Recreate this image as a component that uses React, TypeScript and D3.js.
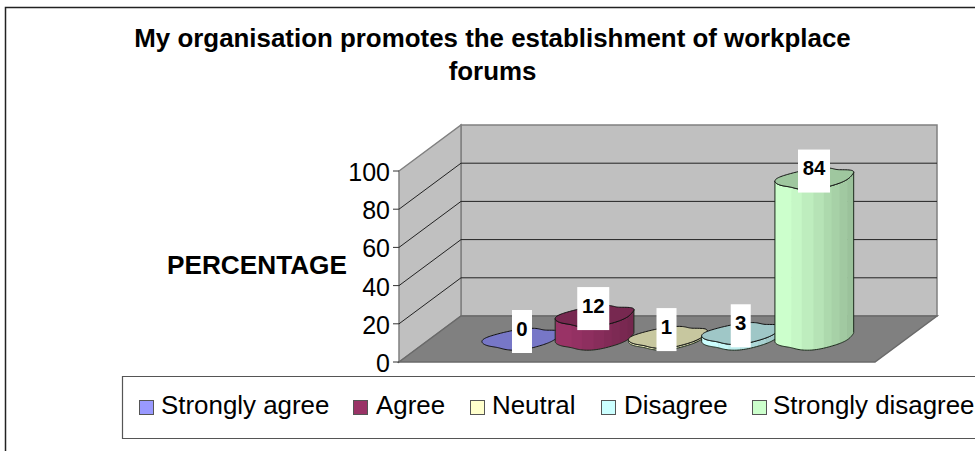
import React from "react";
import * as d3 from "d3";

const categories = ["Strongly agree", "Agree", "Neutral", "Disagree", "Strongly disagree"];
const values = [0, 12, 1, 3, 84];
const colors = ["#9999FF", "#993366", "#FFFFCC", "#CCFFFF", "#CCFFCC"];
const yTicks = [0, 20, 40, 60, 80, 100];
const legendSwatchX = [139, 353, 470, 601, 752];
const legendTextX = [161, 376, 492, 624, 773];
const labelShift = [1, -1, -1, 0, 0];

// facets of the low resolution cylinder: where each band starts, and its shade
const bandStarts = [0, 0.21, 0.34, 0.49, 0.62, 0.72, 0.82, 0.92, 1];
const bandShades = [1, 0.97, 0.93, 0.89, 0.85, 0.82, 0.79, 0.76];
// wobble of the rim, at equal angles
const rimRadius = [0.98, 0.98, 1.14, 0.78, 1.0, 0.98, 0.95, 0.98, 1.1, 1.0, 0.9, 0.8, 0.96, 1.12, 1.02, 1.0];

const FONT = "'Liberation Sans', Arial, sans-serif";
const front = { x0: 399, x1: 875, y0: 362, y1: 171 };
const depth = { x: 62, y: -46 };

const yFront = d3.scaleLinear().domain([0, 100]).range([front.y0, front.y1]);
const xCat = d3.scalePoint<string>().domain(categories).range([521, 814]);
const baseY = 339;
const rimA = 35;
const rimB = 15.5;
const rimC = 11;

const radius = d3.interpolateBasisClosed(rimRadius);
const N = 144;
const rimAt = (cx: number, cy: number): [number, number][] =>
  d3.range(N).map((i) => {
    const t = i / N;
    const th = t * 2 * Math.PI;
    const r = radius(t);
    const u = Math.cos(th) * r;
    const v = Math.sin(th) * r;
    return [cx + rimA * u + rimB * v, cy - rimC * v];
  });

const shade = (c: string, k: number) => {
  const o = d3.rgb(c);
  return d3.rgb(o.r * k, o.g * k, o.b * k).formatHex();
};

const line = d3.line();

function Cylinder({ i }: { i: number }) {
  const cx = xCat(categories[i]) as number;
  const h = yFront(0) - yFront(values[i]);
  const topY = baseY - h;
  const top = rimAt(cx, topY);
  const base = rimAt(cx, baseY);
  const xs = top.map((p) => p[0]);
  const iL = xs.indexOf(d3.min(xs) as number);
  const iR = xs.indexOf(d3.max(xs) as number);
  const idx: number[] = [];
  for (let k = iL; k !== iR; k = (k + 1) % N) idx.push(k);
  idx.push(iR);
  const body = [...idx.map((k) => base[k]), ...idx.slice().reverse().map((k) => top[k])];
  const x0 = xs[iL];
  const w = xs[iR] - xs[iL];
  return (
    <g>
      {h > 0 && (
        <>
          <clipPath id={`body-${i}`}>
            <path d={line(body) + "Z"} />
          </clipPath>
          <g clipPath={`url(#body-${i})`}>
            {bandShades.map((k, b) => (
              <rect
                key={b}
                x={x0 + bandStarts[b] * w}
                width={(bandStarts[b + 1] - bandStarts[b]) * w + 0.5}
                y={topY - 20}
                height={h + 50}
                fill={shade(colors[i], k)}
              />
            ))}
          </g>
          <path d={line(body) + "Z"} fill="none" stroke="#1c2a1c" strokeWidth={1} />
        </>
      )}
      <path d={line(top) + "Z"} fill={shade(colors[i], 0.78)} stroke="#111" strokeWidth={1} />
    </g>
  );
}

function Label({ i }: { i: number }) {
  const cx = (xCat(categories[i]) as number) + labelShift[i];
  const rimY = baseY - (yFront(0) - yFront(values[i]));
  const text = String(values[i]);
  const w = text.length > 1 ? 32 : 20;
  return (
    <g>
      <rect x={cx - w / 2} y={rimY - 29} width={w} height={43} fill="#fff" />
      <text x={cx} y={rimY - 3.5} textAnchor="middle" fontSize={20.4} fontWeight="bold" fill="#000">
        {text}
      </text>
    </g>
  );
}

export default function App() {
  const bx = front.x0 + depth.x;
  const bRight = front.x1 + depth.x;
  const by = (v: number) => yFront(v) + depth.y;
  const poly = (p: number[][]) => line(p as [number, number][]) + "Z";
  return (
    <svg
      width={975}
      height={451}
      viewBox="0 0 975 451"
      style={{ position: "absolute", left: 0, top: 0, background: "#fff" }}
      fontFamily={FONT}
    >
      {/* chart frame */}
      <path d="M975.5,7.5 H5.5 V451" fill="none" stroke="#222" strokeWidth={1.5} />

      <text x={492.5} y={47} textAnchor="middle" fontSize={25.9} fontWeight="bold">
        My organisation promotes the establishment of workplace
      </text>
      <text x={492.5} y={80} textAnchor="middle" fontSize={25.9} fontWeight="bold">
        forums
      </text>

      {/* walls */}
      <path d={poly([[bx, by(100)], [bRight, by(100)], [bRight, by(0)], [bx, by(0)]])} fill="#C0C0C0" stroke="#808080" strokeWidth={1.5} />
      <path d={poly([[front.x0, yFront(100)], [bx, by(100)], [bx, by(0)], [front.x0, yFront(0)]])} fill="#C0C0C0" stroke="#808080" strokeWidth={1.5} />
      {yTicks.slice(1, 5).map((t) => (
        <path
          key={t}
          d={`M${front.x0},${yFront(t)} L${bx},${by(t)} H${bRight}`}
          fill="none"
          stroke="#222"
          strokeWidth={1}
        />
      ))}
      {/* floor */}
      <path d={poly([[front.x0, yFront(0)], [bx, by(0)], [bRight, by(0)], [front.x1, yFront(0)]])} fill="#808080" stroke="#6a6a6a" strokeWidth={1.5} />

      {/* axis */}
      {yTicks.map((t) => (
        <g key={t}>
          <line x1={front.x0 - 6} x2={front.x0} y1={yFront(t)} y2={yFront(t)} stroke="#333" />
          <text x={390} y={yFront(t) + 10} textAnchor="end" fontSize={25}>
            {t}
          </text>
        </g>
      ))}
      <text x={167} y={274} fontSize={26.2} fontWeight="bold">
        PERCENTAGE
      </text>

      {values.map((_, i) => (
        <Cylinder key={i} i={i} />
      ))}
      {values.map((_, i) => (
        <Label key={i} i={i} />
      ))}

      {/* legend */}
      <path d="M975,376.5 H122.5 V438.5 H975" fill="#fff" stroke="#555" strokeWidth={1.2} />
      {categories.map((c, i) => (
        <g key={c}>
          <rect x={legendSwatchX[i] + 0.5} y={400.5} width={14} height={14} fill={colors[i]} stroke="#555" />
          <text x={legendTextX[i]} y={414} fontSize={25.9}>
            {c}
          </text>
        </g>
      ))}
    </svg>
  );
}
